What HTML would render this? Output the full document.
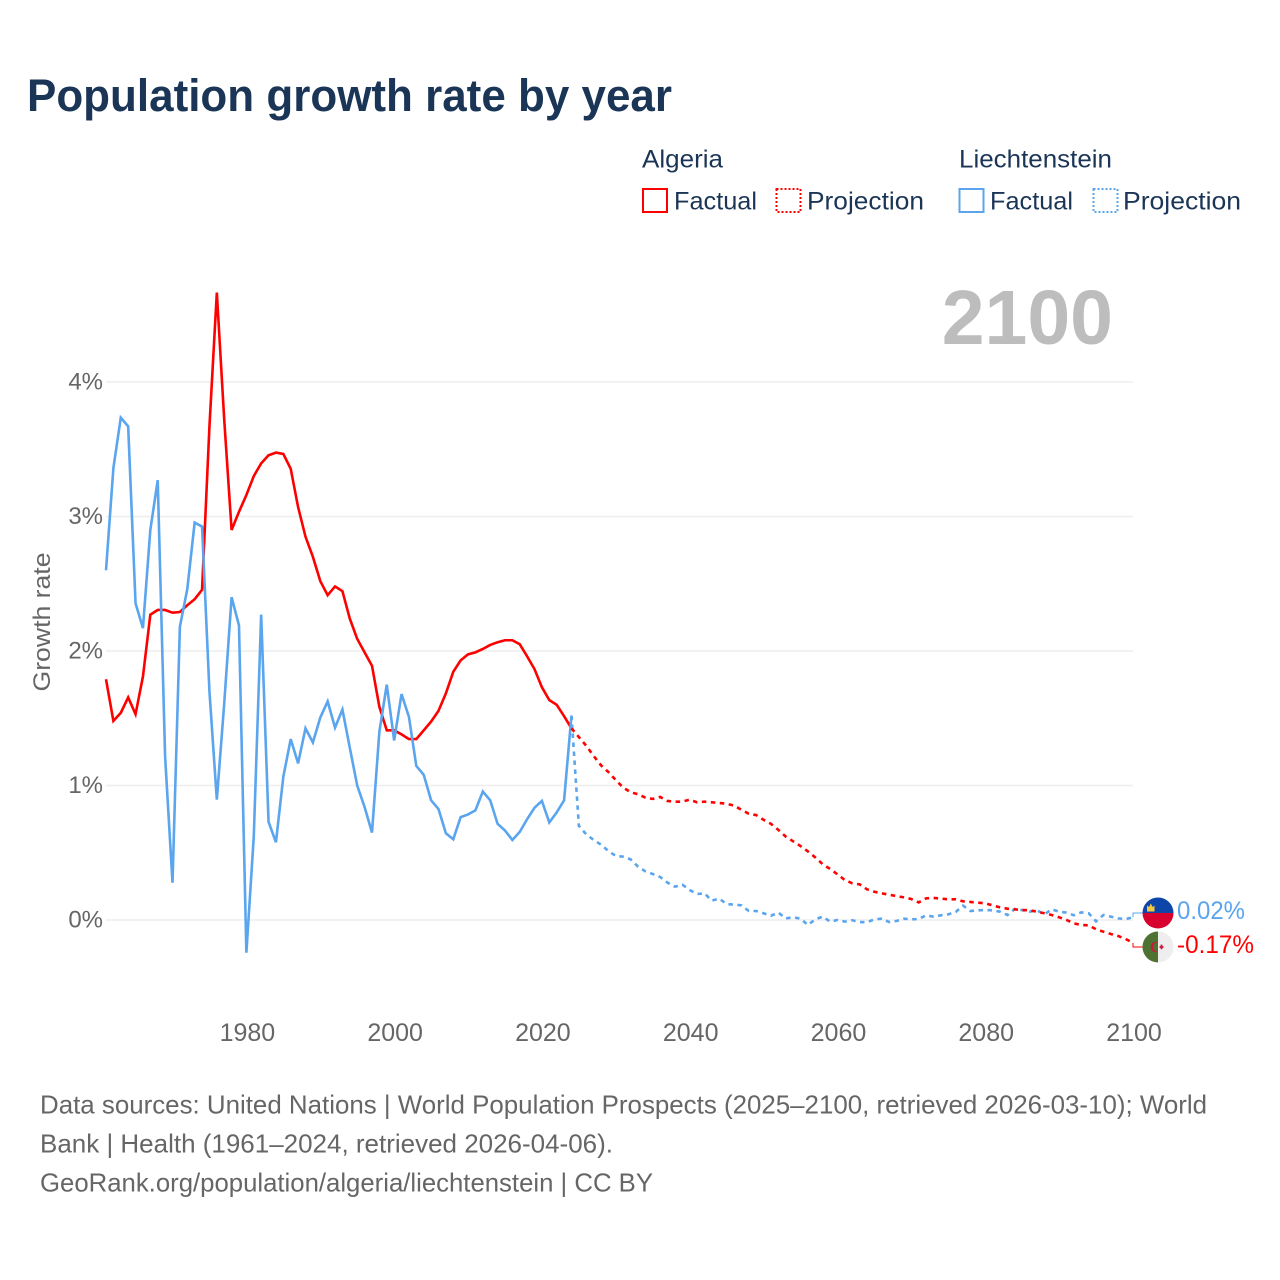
<!DOCTYPE html>
<html lang="en">
<head>
<meta charset="utf-8">
<title>Population growth rate by year</title>
<style>
html,body{margin:0;padding:0;background:#fff;}
svg{display:block;font-family:"Liberation Sans",sans-serif;}
</style>
</head>
<body>
<svg id="chart" width="1280" height="1280" viewBox="0 0 1280 1280" xmlns="http://www.w3.org/2000/svg">
  <text x="27" y="111" font-size="45" font-weight="700" fill="#1b3557" textLength="645" lengthAdjust="spacingAndGlyphs">Population growth rate by year</text>

  <g>
    <text x="642" y="167.500" font-size="25" fill="#1b3557" textLength="81" lengthAdjust="spacingAndGlyphs">Algeria</text>
    <rect x="643" y="189" width="24" height="23" fill="none" stroke="#ff0000" stroke-width="2"/>
    <text x="674" y="209.500" font-size="25" fill="#1b3557" textLength="83" lengthAdjust="spacingAndGlyphs">Factual</text>
    <rect x="776.500" y="189" width="24" height="23" fill="none" stroke="#ff0000" stroke-width="2" stroke-dasharray="2 2"/>
    <text x="807" y="209.500" font-size="25" fill="#1b3557" textLength="117" lengthAdjust="spacingAndGlyphs">Projection</text>
    <text x="959" y="167.500" font-size="25" fill="#1b3557" textLength="153" lengthAdjust="spacingAndGlyphs">Liechtenstein</text>
    <rect x="959.500" y="189" width="24" height="23" fill="none" stroke="#5aa5ee" stroke-width="2"/>
    <text x="990" y="209.500" font-size="25" fill="#1b3557" textLength="83" lengthAdjust="spacingAndGlyphs">Factual</text>
    <rect x="1093.500" y="189" width="24" height="23" fill="none" stroke="#5aa5ee" stroke-width="2" stroke-dasharray="2 2"/>
    <text x="1123" y="209.500" font-size="25" fill="#1b3557" textLength="118" lengthAdjust="spacingAndGlyphs">Projection</text>
  </g>

  <text x="1113" y="344" font-size="77" font-weight="700" fill="#bdbdbd" text-anchor="end">2100</text>

  <text transform="translate(50,622) rotate(-90)" font-size="24" fill="#666666" text-anchor="middle" textLength="139" lengthAdjust="spacingAndGlyphs">Growth rate</text>

  <g id="grid"></g>
  <g id="y-ticks"></g>
  <g id="x-ticks"></g>
  <g id="series"></g>
  <g id="ends"></g>

  <g>
    <text x="40" y="1113.500" font-size="26" fill="#666666" textLength="1167" lengthAdjust="spacingAndGlyphs">Data sources: United Nations | World Population Prospects (2025–2100, retrieved 2026-03-10); World</text>
    <text x="40" y="1152.500" font-size="26" fill="#666666" textLength="573" lengthAdjust="spacingAndGlyphs">Bank | Health (1961–2024, retrieved 2026-04-06).</text>
    <text x="40" y="1191.500" font-size="26" fill="#666666" textLength="613" lengthAdjust="spacingAndGlyphs">GeoRank.org/population/algeria/liechtenstein | CC BY</text>
  </g>
</svg>
<script>
const yTickValues = [0, 1, 2, 3, 4];
const xTickYears = [1980, 2000, 2020, 2040, 2060, 2080, 2100];
const factualStartYear = 1961;
const projectionStartYear = 2025;

const algeriaFactual = [
  1.79,1.48,1.54,1.655,1.53,1.81,2.27,2.305,2.305,2.285,
  2.29,2.34,2.385,2.455,3.67,4.665,3.72,2.90,3.035,3.16,
  3.30,3.395,3.455,3.475,3.465,3.355,3.07,2.85,2.70,2.52,
  2.415,2.48,2.445,2.24,2.09,1.99,1.89,1.585,1.41,1.41,
  1.38,1.345,1.345,1.41,1.475,1.555,1.685,1.845,1.93,1.975,
  1.99,2.015,2.045,2.065,2.08,2.08,2.05,1.96,1.865,1.73,
  1.635,1.60,1.515,1.425
];
const algeriaProjection = [
  1.36,1.295,1.22,1.15,1.10,1.04,0.985,0.95,0.935,0.91,
  0.90,0.915,0.885,0.88,0.88,0.895,0.875,0.88,0.875,0.87,
  0.865,0.85,0.82,0.79,0.78,0.745,0.715,0.67,0.62,0.585,
  0.55,0.51,0.465,0.415,0.38,0.34,0.297,0.273,0.265,0.228,
  0.21,0.198,0.188,0.178,0.168,0.156,0.131,0.161,0.164,0.159,
  0.154,0.154,0.139,0.134,0.129,0.124,0.109,0.094,0.084,0.079,
  0.074,0.072,0.062,0.05,0.037,0.02,0,-0.025,-0.037,-0.04,
  -0.069,-0.087,-0.104,-0.119,-0.141,-0.17
];
const liechtensteinFactual = [
  2.60,3.36,3.735,3.67,2.355,2.17,2.90,3.27,1.215,0.277,
  2.18,2.46,2.955,2.925,1.70,0.895,1.61,2.40,2.19,-0.243,
  0.62,2.27,0.73,0.578,1.065,1.345,1.165,1.425,1.32,1.505,
  1.625,1.43,1.565,1.28,1.0,0.84,0.65,1.40,1.75,1.335,
  1.68,1.51,1.145,1.08,0.89,0.825,0.645,0.60,0.765,0.785,
  0.815,0.955,0.89,0.715,0.665,0.595,0.655,0.75,0.835,0.885,
  0.725,0.80,0.89,1.52
];
const liechtensteinProjection = [
  0.70,0.637,0.595,0.56,0.513,0.476,0.471,0.451,0.397,0.362,
  0.342,0.32,0.278,0.248,0.263,0.223,0.193,0.198,0.144,0.159,
  0.119,0.114,0.109,0.067,0.067,0.05,0.032,0.055,0.012,0.02,
  0.01,-0.037,0.005,0.025,-0.012,0,-0.012,-0.002,-0.015,-0.017,
  0.005,0.01,-0.015,-0.007,0.01,0.005,0.007,0.035,0.025,0.035,
  0.042,0.06,0.107,0.067,0.072,0.074,0.072,0.062,0.037,0.082,
  0.074,0.062,0.072,0.042,0.079,0.062,0.055,0.035,0.057,0.05,
  -0.01,0.037,0.025,0.012,0.007,0.02
];

const NS = 'http://www.w3.org/2000/svg';
const RED = '#ff0000';
const BLUE = '#5aa5ee';
const LINE_WIDTH = 2.6;
const xLeft = 106, xRight = 1133, yearMin = 1961, yearMax = 2100;
const yZero = 920, pxPerPct = 134.5;
function xScale(year) { return xLeft + (year - yearMin) * (xRight - xLeft) / (yearMax - yearMin); }
function yScale(v) { return yZero - v * pxPerPct; }
function svgEl(tag, attrs, parent) {
  const el = document.createElementNS(NS, tag);
  for (const k in attrs) el.setAttribute(k, attrs[k]);
  parent.appendChild(el);
  return el;
}
function pathFrom(values, startYear) {
  return values.map(function (v, i) {
    return (i ? 'L' : 'M') + xScale(startYear + i).toFixed(2) + ' ' + yScale(v).toFixed(2);
  }).join('');
}

const grid = document.getElementById('grid');
const yTicks = document.getElementById('y-ticks');
const xTicks = document.getElementById('x-ticks');
const seriesG = document.getElementById('series');
const ends = document.getElementById('ends');

yTickValues.forEach(function (v) {
  const line = svgEl('line', {x1: xLeft, x2: xRight, y1: yScale(v), y2: yScale(v), stroke: '#eeeeee', 'stroke-width': 1.5}, grid);
  
  
  const label = svgEl('text', {x: 103, y: yScale(v) + 7.5, 'font-size': 24, fill: '#666666', 'text-anchor': 'end'}, yTicks);
  
  
  label.textContent = v + '%';
});

xTickYears.forEach(function (year) {
  const label = svgEl('text', {x: xScale(year) + 1, y: 1041, 'font-size': 25, fill: '#666666', 'text-anchor': 'middle'}, xTicks);
  
  
  label.textContent = year;
});

const aFact = svgEl('path', {d: pathFrom(algeriaFactual, factualStartYear), fill: 'none', stroke: RED, 'stroke-width': LINE_WIDTH}, seriesG);



const lFact = svgEl('path', {d: pathFrom(liechtensteinFactual, factualStartYear), fill: 'none', stroke: BLUE, 'stroke-width': LINE_WIDTH}, seriesG);



const lProjValues = [liechtensteinFactual[liechtensteinFactual.length - 1]].concat(liechtensteinProjection);
const lProj = svgEl('path', {d: pathFrom(lProjValues, projectionStartYear - 1), fill: 'none', stroke: BLUE, 'stroke-width': LINE_WIDTH, 'stroke-dasharray': '4.5 4.5'}, seriesG);



const aProjValues = [algeriaFactual[algeriaFactual.length - 1]].concat(algeriaProjection);
const aProj = svgEl('path', {d: pathFrom(aProjValues, projectionStartYear - 1), fill: 'none', stroke: RED, 'stroke-width': LINE_WIDTH, 'stroke-dasharray': '4.5 4.5'}, seriesG);



/* end markers: flags dodge apart so they keep a minimum separation */
const lastL = liechtensteinProjection[liechtensteinProjection.length - 1];
const lastA = algeriaProjection[algeriaProjection.length - 1];
const pyL = yScale(lastL), pyA = yScale(lastA);
const mid = (pyL + pyA) / 2 - 0.1;
const sep = 17;
const flagYL = pyL <= pyA ? Math.min(pyL, mid - sep) : Math.max(pyL, mid + sep);
const flagYA = pyL <= pyA ? Math.max(pyA, mid + sep) : Math.min(pyA, mid - sep);
const flagX = 1158;

const connL = svgEl('path', {d: 'M' + xRight + ' ' + pyL + 'V' + flagYL + 'H' + (flagX - 15), fill: 'none', stroke: BLUE, 'stroke-width': 1}, ends);


const connA = svgEl('path', {d: 'M' + xRight + ' ' + pyA + 'V' + flagYA + 'H' + (flagX - 15), fill: 'none', stroke: RED, 'stroke-width': 1}, ends);



const flagL = svgEl('g', {transform: 'translate(' + flagX + ',' + flagYL + ')'}, ends);


svgEl('path', {d: 'M-15.500 0A15.500 15.500 0 0 1 15.500 0Z', fill: '#0b46a8'}, flagL);
svgEl('path', {d: 'M-15.500 0A15.500 15.500 0 0 0 15.500 0Z', fill: '#d8002e'}, flagL);
svgEl('path', {d: 'M-11 -1.500V-7.500L-9 -6L-7.200 -9.500L-5.400 -6L-3.500 -7.500V-1.500Z', fill: '#f5c83c'}, flagL);

const flagA = svgEl('g', {transform: 'translate(' + flagX + ',' + flagYA + ')'}, ends);


svgEl('path', {d: 'M0 -15.500A15.500 15.500 0 0 0 0 15.500Z', fill: '#4e7232'}, flagA);
svgEl('path', {d: 'M0 -15.500A15.500 15.500 0 0 1 0 15.500Z', fill: '#eeeeee'}, flagA);
svgEl('path', {d: 'M0.500 -4.500A5.200 5.200 0 1 0 0.500 4.500A4.600 4.600 0 1 1 0.500 -4.500Z', fill: '#d2143a'}, flagA);
svgEl('path', {d: 'M1.500 -0.900H5.500V0.900H1.500ZM2.600 -2.300H4.400V2.300H2.600Z', fill: '#d2143a'}, flagA);

const labelL = svgEl('text', {x: 1177, y: flagYL + 6, 'font-size': 25, fill: BLUE, textLength: 68, lengthAdjust: 'spacingAndGlyphs'}, ends);


labelL.textContent = lastL.toFixed(2) + '%';

const labelA = svgEl('text', {x: 1177, y: flagYA + 6, 'font-size': 25, fill: RED, textLength: 77, lengthAdjust: 'spacingAndGlyphs'}, ends);


labelA.textContent = lastA.toFixed(2) + '%';
</script>
</body>
</html>
